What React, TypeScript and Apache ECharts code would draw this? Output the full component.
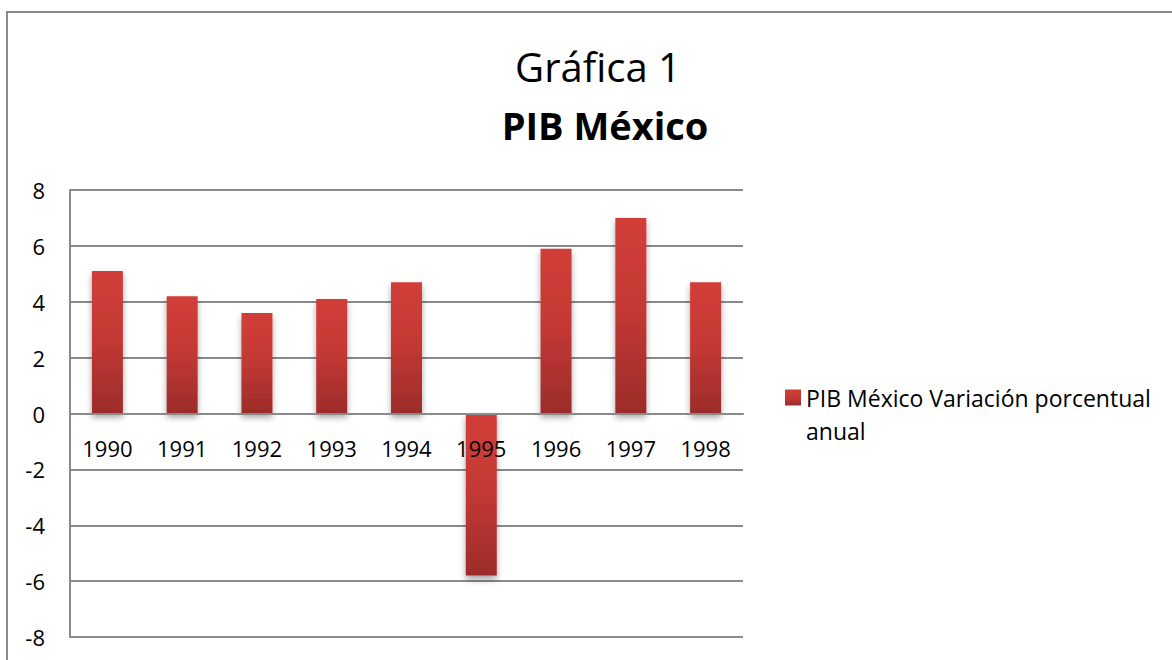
import React, { useEffect, useRef } from "react";
import * as echarts from "echarts";

const years: string[] = ["1990", "1991", "1992", "1993", "1994", "1995", "1996", "1997", "1998"];
const pibVariation: number[] = [5.1, 4.2, 3.6, 4.1, 4.7, -5.8, 5.9, 7.0, 4.7];
const seriesName = "PIB México Variación porcentual anual";
const legendLines: string[] = ["PIB México Variación porcentual", "anual"];
const titleLine1 = "Gráfica 1";
const titleLine2 = "PIB México";

const FONT = "'Open Sans', 'Noto Sans', sans-serif";

export default function App() {
  const ref = useRef<HTMLDivElement>(null);

  useEffect(() => {
    if (!ref.current) return;
    const chart = echarts.init(ref.current, undefined, { renderer: "svg" });
    const barGradient = new echarts.graphic.LinearGradient(0, 0, 0, 1, [
      { offset: 0, color: "#d23d39" },
      { offset: 0.45, color: "#c53935" },
      { offset: 1, color: "#9c2c2a" },
    ]);
    chart.setOption({
      animation: false,
      backgroundColor: "#ffffff",
      textStyle: { fontFamily: FONT },
      graphic: [
        {
          type: "rect",
          shape: { x: 7, y: 12, width: 1180, height: 670 },
          style: { fill: "none", stroke: "#8a8a8a", lineWidth: 2 },
          silent: true,
        },
        {
          type: "text",
          x: 598,
          y: 66,
          style: {
            text: titleLine1,
            fontFamily: FONT,
            fontSize: 40,
            fill: "#000",
            align: "center",
            verticalAlign: "middle",
          },
        },
        {
          type: "text",
          x: 605,
          y: 125,
          style: {
            text: titleLine2,
            fontFamily: FONT,
            fontSize: 38,
            fontWeight: "bold",
            fill: "#000",
            align: "center",
            verticalAlign: "middle",
          },
        },
      ],
      legend: {
        left: 785,
        top: 348,
        padding: 0,
        itemWidth: 16,
        itemHeight: 16,
        itemGap: 6,
        icon: "rect",
        data: [seriesName],
        formatter: () => "\n" + legendLines.join("\n"),
        textStyle: {
          fontFamily: FONT,
          fontSize: 23,
          color: "#000",
          lineHeight: 33,
        },
      },
      grid: {
        left: 70,
        right: 429,
        top: 190,
        bottom: 23,
        containLabel: false,
        outerBoundsMode: "none",
      },
      xAxis: {
        type: "category",
        data: years,
        z: 10,
        axisLine: { onZero: true, lineStyle: { color: "#8a8a8a", width: 2 } },
        axisTick: { show: false },
        axisLabel: {
          margin: -200,
          fontFamily: FONT,
          fontSize: 22,
          color: "#000",
        },
        splitLine: { show: false },
      },
      yAxis: {
        type: "value",
        min: -8,
        max: 8,
        interval: 2,
        axisLine: { show: true, lineStyle: { color: "#8a8a8a", width: 2 } },
        axisTick: { show: false },
        axisLabel: {
          margin: 25,
          fontFamily: FONT,
          fontSize: 22,
          color: "#000",
        },
        splitLine: { show: true, lineStyle: { color: "#8a8a8a", width: 2 } },
      },
      series: [
        {
          name: seriesName,
          type: "bar",
          data: pibVariation,
          barWidth: 31,
          itemStyle: {
            color: barGradient,
            shadowBlur: 6,
            shadowOffsetY: 4,
            shadowColor: "rgba(0,0,0,0.35)",
          },
        },
      ],
    });
    return () => chart.dispose();
  }, []);

  return (
    <div
      ref={ref}
      style={{ position: "fixed", left: 0, top: 0, width: 1172, height: 660, background: "#fff" }}
    />
  );
}
